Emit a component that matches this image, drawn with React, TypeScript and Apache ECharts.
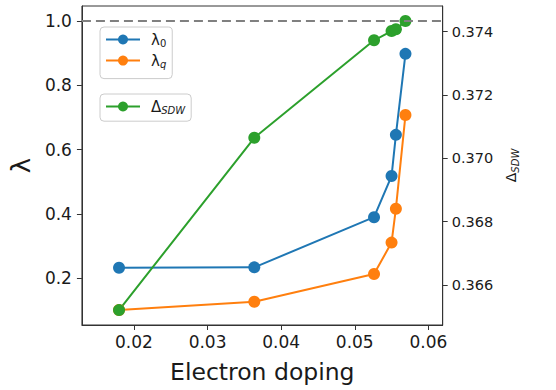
import React, { useEffect, useRef } from "react";
import * as echarts from "echarts";

const dopingX = [0.01797, 0.03635, 0.05262, 0.055, 0.05559, 0.05689];
const lambda0 = [0.233, 0.234, 0.39, 0.518, 0.646, 0.898];
const lambdaQ = [0.1015, 0.127, 0.2134, 0.311, 0.4164, 0.7076];
const deltaSDW = [0.365207, 0.37065, 0.373728, 0.374022, 0.374076, 0.374338];
const xTicks = [0.02, 0.03, 0.04, 0.05, 0.06];
const leftTicks = [0.2, 0.4, 0.6, 0.8, 1.0];
const rightTicks = [0.366, 0.368, 0.37, 0.372, 0.374];
const seriesNames = ["λ0", "λq", "ΔSDW"];

const FONT = "DejaVu Sans";
const AX = "#333333";
const TXT = "#1a1a1a";

export default function App() {
  const ref = useRef<HTMLDivElement>(null);
  useEffect(() => {
    if (!ref.current) return;
    const chart = echarts.init(ref.current, undefined, { renderer: "svg" });
    const pair = (ys: number[]) => dopingX.map((x, i) => [x, ys[i]]);
    const legendRich = {
      a: { fontFamily: FONT, fontSize: 15, lineHeight: 18, color: TXT, padding: [0, 0, 0, 6] },
      s: { fontFamily: FONT, fontSize: 10, lineHeight: 10, color: TXT, verticalAlign: "bottom" },
      si: { fontFamily: FONT, fontSize: 10, lineHeight: 10, color: TXT, fontStyle: "italic", verticalAlign: "bottom" },
    };
    const fmt = (name: string) => {
      if (name === "λ0") return "{a|λ}{s|0}";
      if (name === "λq") return "{a|λ}{si|q}";
      return "{a|Δ}{si|SDW}";
    };
    const legendBase = {
      orient: "vertical",
      left: 100,
      itemWidth: 34,
      itemHeight: 12.5,
      itemGap: 4.6,
      borderColor: "#cccccc",
      borderWidth: 1,
      borderRadius: 4,
      backgroundColor: "#ffffff",
      formatter: fmt,
      textStyle: { rich: legendRich },
    };
    const mkSeries = (name: string, data: number[][], color: string, yIdx: number, extra: any = {}) => ({
      name,
      type: "line",
      yAxisIndex: yIdx,
      data,
      symbol: "circle",
      symbolSize: 12,
      lineStyle: { color, width: 2 },
      itemStyle: { color },
      ...extra,
    });
    chart.setOption({
      animation: false,
      backgroundColor: "#ffffff",
      grid: {
        left: 80,
        right: 113.3,
        top: 6,
        bottom: 65,
        show: true,
        borderColor: AX,
        borderWidth: 1,
        backgroundColor: "transparent",
      },
      legend: [
        { ...legendBase, top: 27, padding: [5, 6, 9, 5], data: [seriesNames[0], seriesNames[1]] },
        { ...legendBase, top: 94, padding: [5, 6, 5.7, 5], data: [seriesNames[2]] },
      ],
      xAxis: {
        type: "value",
        min: 0.01293,
        max: 0.06195,
        name: "Electron doping",
        nameLocation: "middle",
        nameGap: 35,
        nameTextStyle: { fontFamily: FONT, fontSize: 23.5, color: TXT },
        splitLine: { show: false },
        axisLine: { lineStyle: { color: AX, width: 1 } },
        axisTick: { customValues: xTicks, length: 5, lineStyle: { color: AX } },
        axisLabel: {
          customValues: xTicks,
          margin: 8,
          fontFamily: FONT,
          fontSize: 17,
          color: TXT,
          formatter: (v: number) => v.toFixed(2),
        },
      },
      yAxis: [
        {
          type: "value",
          position: "left",
          min: 0.0548,
          max: 1.0467,
          name: "λ",
          nameLocation: "middle",
          nameRotate: 90,
          nameGap: 45,
          nameTextStyle: { fontFamily: FONT, fontSize: 26, color: TXT },
          splitLine: { show: false },
          axisLine: { show: true, lineStyle: { color: AX, width: 1 } },
          axisTick: { show: true, customValues: leftTicks, length: 5, lineStyle: { color: AX } },
          axisLabel: {
            customValues: leftTicks,
            margin: 10,
            fontFamily: FONT,
            fontSize: 17,
            color: TXT,
            formatter: (v: number) => v.toFixed(1),
          },
        },
        {
          type: "value",
          position: "right",
          min: 0.364736,
          max: 0.374812,
          name: "{d|Δ}{s|SDW}",
          nameLocation: "middle",
          nameRotate: 90,
          nameGap: 52,
          nameTextStyle: {
            rich: {
              d: { fontFamily: FONT, fontSize: 14, lineHeight: 18, color: TXT },
              s: { fontFamily: FONT, fontSize: 10, lineHeight: 10, color: TXT, fontStyle: "italic", verticalAlign: "bottom" },
            },
          },
          splitLine: { show: false },
          axisLine: { show: true, lineStyle: { color: AX, width: 1 } },
          axisTick: { show: true, customValues: rightTicks, length: 5, lineStyle: { color: AX } },
          axisLabel: {
            customValues: rightTicks,
            margin: 9,
            fontFamily: FONT,
            fontSize: 14.5,
            color: TXT,
            formatter: (v: number) => v.toFixed(3),
          },
        },
      ],
      series: [
        mkSeries(seriesNames[0], pair(lambda0), "#1f77b4", 0, {
          markLine: {
            silent: true,
            symbol: "none",
            label: { show: false },
            lineStyle: { color: "#808080", type: [9, 5], width: 2 },
            data: [{ yAxis: 1.0 }],
          },
        }),
        mkSeries(seriesNames[1], pair(lambdaQ), "#ff7f0e", 0),
        mkSeries(seriesNames[2], pair(deltaSDW), "#2ca02c", 1),
      ],
    });
    return () => chart.dispose();
  }, []);
  return (
    <div
      ref={ref}
      style={{ position: "absolute", left: 0, top: 0, width: 556, height: 390 }}
    />
  );
}
